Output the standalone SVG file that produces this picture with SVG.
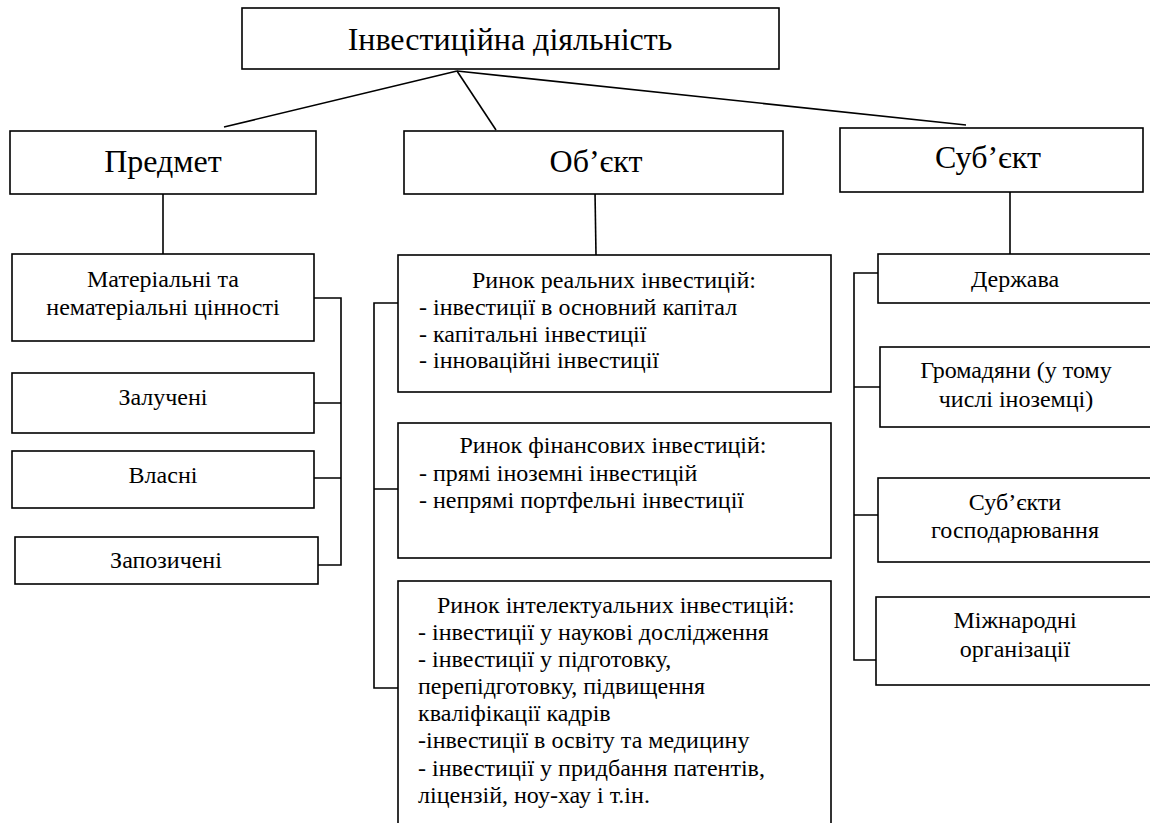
<svg xmlns="http://www.w3.org/2000/svg" width="1150" height="823" viewBox="0 0 1150 823" font-family="'Liberation Serif', 'Times New Roman', 'DejaVu Serif', serif">
<style>
.box{fill:#fff;stroke:#000;stroke-width:1.6}
.ln{fill:none;stroke:#000;stroke-width:1.6}
text{font-family:'Liberation Serif','Times New Roman','DejaVu Serif',serif;fill:#000}
.h{font-size:32px;text-anchor:middle}
.t{font-size:24px}
.c{text-anchor:middle}
</style>
<rect width="1150" height="823" fill="#fff"/>
<g id="connectors">
<line class="ln" x1="457" y1="71" x2="224" y2="127"/>
<line class="ln" x1="457" y1="71" x2="496" y2="130"/>
<line class="ln" x1="457" y1="71" x2="966" y2="125"/>
<line class="ln" x1="163" y1="194" x2="163" y2="254"/>
<line class="ln" x1="595" y1="192" x2="596" y2="255"/>
<line class="ln" x1="1010" y1="192" x2="1010" y2="254"/>
<path class="ln" d="M314 298H341V565H318M314 403H341M314 478H341"/>
<path class="ln" d="M398 303H374V688H398M374 489H398"/>
<path class="ln" d="M878 273H854V660H876M854 387H880M854 515H878"/>
</g>
<g id="root">
<rect class="box" x="242" y="8" width="537" height="61"/>
<text class="h" x="510" y="50">Інвестиційна діяльність</text>
</g>
<g id="predmet">
<rect class="box" x="10" y="131" width="306" height="63"/>
<text class="h" x="163" y="172">Предмет</text>
</g>
<g id="obiekt">
<rect class="box" x="404" y="131" width="379" height="63"/>
<text class="h" x="596" y="172">Об’єкт</text>
</g>
<g id="subiekt">
<rect class="box" x="840" y="128" width="303" height="64"/>
<text class="h" x="988" y="168">Суб’єкт</text>
</g>
<g id="materialni">
<rect class="box" x="12" y="254" width="302" height="87"/>
<text class="t c" x="163" y="287">Матеріальні та</text>
<text class="t c" x="163" y="315">нематеріальні цінності</text>
</g>
<g id="zalucheni">
<rect class="box" x="12" y="373" width="302" height="60"/>
<text class="t c" x="163" y="405">Залучені</text>
</g>
<g id="vlasni">
<rect class="box" x="12" y="451" width="302" height="57"/>
<text class="t c" x="163" y="483">Власні</text>
</g>
<g id="zapozycheni">
<rect class="box" x="15" y="537" width="303" height="47"/>
<text class="t c" x="166" y="568">Запозичені</text>
</g>
<g id="rynok-realnyh">
<rect class="box" x="398" y="255" width="433" height="137"/>
<text class="t c" x="614" y="288">Ринок реальних інвестицій:</text>
<text class="t" x="419" y="315">- інвестиції в основний капітал</text>
<text class="t" x="419" y="342">- капітальні інвестиції</text>
<text class="t" x="419" y="368">- інноваційні інвестиції</text>
</g>
<g id="rynok-finansovyh">
<rect class="box" x="398" y="423" width="433" height="135"/>
<text class="t c" x="613" y="453">Ринок фінансових інвестицій:</text>
<text class="t" x="419" y="481">- прямі іноземні інвестицій</text>
<text class="t" x="419" y="508">- непрямі портфельні інвестиції</text>
</g>
<g id="rynok-intelektualnyh">
<rect class="box" x="398" y="581" width="433" height="260"/>
<text class="t" x="437" y="613">Ринок інтелектуальних інвестицій:</text>
<text class="t" x="418" y="640">- інвестиції у наукові дослідження</text>
<text class="t" x="418" y="667">- інвестиції у підготовку,</text>
<text class="t" x="418" y="694">перепідготовку, підвищення</text>
<text class="t" x="418" y="721">кваліфікації кадрів</text>
<text class="t" x="418" y="748">-інвестиції в освіту та медицину</text>
<text class="t" x="418" y="776">- інвестиції у придбання патентів,</text>
<text class="t" x="418" y="803">ліцензій, ноу-хау і т.ін.</text>
</g>
<g id="derzhava">
<rect class="box" x="878" y="254" width="290" height="49"/>
<text class="t c" x="1015" y="287">Держава</text>
</g>
<g id="gromadiany">
<rect class="box" x="880" y="347" width="290" height="80"/>
<text class="t c" x="1016" y="378">Громадяни (у тому</text>
<text class="t c" x="1016" y="407">числі іноземці)</text>
</g>
<g id="subiekty-gospodariuvannia">
<rect class="box" x="878" y="478" width="290" height="84"/>
<text class="t c" x="1015" y="510">Суб’єкти</text>
<text class="t c" x="1015" y="538">господарювання</text>
</g>
<g id="mizhnarodni">
<rect class="box" x="876" y="597" width="290" height="88"/>
<text class="t c" x="1015" y="628">Міжнародні</text>
<text class="t c" x="1015" y="657">організації</text>
</g>
</svg>
